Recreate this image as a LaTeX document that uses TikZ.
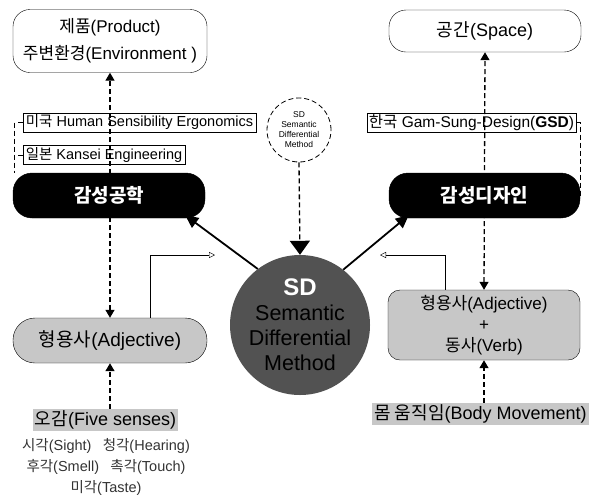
\documentclass[tikz,border=0pt]{standalone}
\usepackage{fontspec}
\setmainfont{Liberation Sans}
\newfontfamily\kr{Noto Sans CJK KR}
\usetikzlibrary{arrows.meta,backgrounds}

\begin{document}
\begin{tikzpicture}[x=1pt,y=-1pt]
\tikzstyle{every node}=[inner sep=2pt,align=center]
\tikzstyle{topbox}=[draw,fill=white,rounded corners=17pt,font=\fontsize{17}{27}\selectfont]
\tikzstyle{labelbox}=[draw,minimum height=19pt,inner sep=1pt,font=\fontsize{14.5}{15}\selectfont]
\tikzstyle{blackbox}=[fill=black,draw=black,rounded corners=19pt,minimum height=45pt,text=white,font=\fontsize{19}{22}\selectfont\bfseries\kr]
\tikzstyle{adjbox}=[draw,fill=black!22,font=\fontsize{19}{21}\selectfont]
\tikzstyle{sense}=[fill=black!22,inner sep=2pt,font=\fontsize{18}{20}\selectfont]
\tikzstyle{dashline}=[line width=1.3pt,dash pattern=on 5pt off 3pt]
\tikzstyle{dasharrow}=[dashline,{Triangle[width=9pt,length=8pt]}-{Triangle[width=9pt,length=8pt]}]
\tikzstyle{thick arrow}=[line width=1.8pt,-{Triangle[width=12pt,length=13pt]}]
\tikzstyle{open arrow}=[thin,-{Triangle[open,width=6pt,length=6pt]}]
\useasboundingbox (0,0) rectangle (604,499);

\node[topbox,minimum width=194pt,minimum height=63pt] (product) at (110,41) {{\kr 제품}(Product)\\{\kr 주변환경}(Environment )};
\node[topbox,minimum width=192pt,minimum height=42pt,font=\fontsize{18}{20}\selectfont] (space) at (485,31) {{\kr 공간}(Space)};

\node[labelbox,minimum width=233pt] (usa) at (139.5,122.5) {{\kr 미국} Human Sensibility Ergonomics};
\node[labelbox,minimum width=162pt] (jpn) at (104,155) {{\kr 일본} Kansei Engineering};
\node[labelbox,minimum width=209pt,font=\fontsize{15.5}{16}\selectfont] (kor) at (471.5,122.5) {{\kr 한국} Gam-Sung-Design(\textbf{GSD})};

\node[blackbox,minimum width=192pt] (kgong) at (109,195.5) {감성공학};
\node[blackbox,minimum width=191pt] (kdes) at (484.5,195.5) {감성디자인};

\node[draw,dashline,line width=0.8pt,circle,minimum size=64pt,inner sep=0pt,font=\fontsize{8.5}{10}\selectfont] (sdm) at (299,130) {SD\\Semantic\\Differential\\Method};
\node[circle,fill=black!68,minimum size=140pt,inner sep=0pt,font=\fontsize{21.5}{25}\selectfont,text=black] (sd) at (300,325)
    {{\color{white}\fontsize{24}{27}\bfseries\selectfont SD}\\Semantic\\Differential\\Method};

\node[adjbox,rounded corners=22pt,minimum width=194pt,minimum height=45pt] (adjL) at (110,340.5) {{\kr 형용사}(Adjective)};
\node[adjbox,rounded corners=12pt,minimum width=192pt,minimum height=70pt,font=\fontsize{17}{21}\selectfont] (adjR) at (484,325) {{\kr 형용사}(Adjective)\\+\\{\kr 동사}(Verb)};

\node[sense] (five) at (105.5,420) {{\kr 오감}(Five senses)};
\node[sense] (body) at (480.5,414) {{\kr 몸 움직임}(Body Movement)};
\node[text=black!80,font=\fontsize{14.5}{21}\selectfont,anchor=north] (senses) at (106,436)
    {{\kr 시각}(Sight)\enspace\ {\kr 청각}(Hearing)\\{\kr 후각}(Smell)\enspace\ {\kr 촉각}(Touch)\\{\kr 미각}(Taste)};

\coordinate (opL) at (215,255);
\coordinate (opR) at (380,255);

% dashed links behind the boxes
\begin{scope}[on background layer]
\draw[dasharrow] (adjL.north) -- (product.south);
\draw[dasharrow] (adjR.north) -- (space.south);
\end{scope}
\draw[dashline,-{Triangle[width=9pt,length=8pt]}] (five.north -| adjL.south) -- (adjL.south);
\draw[dashline,-{Triangle[width=9pt,length=8pt]}] (body.north -| adjR.south) -- (adjR.south);
\draw[dashline,-{Triangle[width=20pt,length=14pt]}] (sdm.south) -- (sd.north);

\draw[dashline,line width=0.8pt] (usa.west) -| ([xshift=2pt]kgong.north west);
\draw[dashline,line width=0.8pt] (jpn.west) -- ++(-8,0);
\draw[dashline,line width=0.8pt] (kor.east) -| (kdes.east);

\draw[thick arrow] (sd.127) -- ([xshift=-20pt,yshift=3pt]kgong.south east);
\draw[thick arrow] (sd.52) -- ([xshift=20pt,yshift=3pt]kdes.south west);

\draw[open arrow] ([xshift=40pt]adjL.north) |- (opL);
\draw[open arrow] ([xshift=-39pt]adjR.north) |- (opR);
\end{tikzpicture}
\end{document}
